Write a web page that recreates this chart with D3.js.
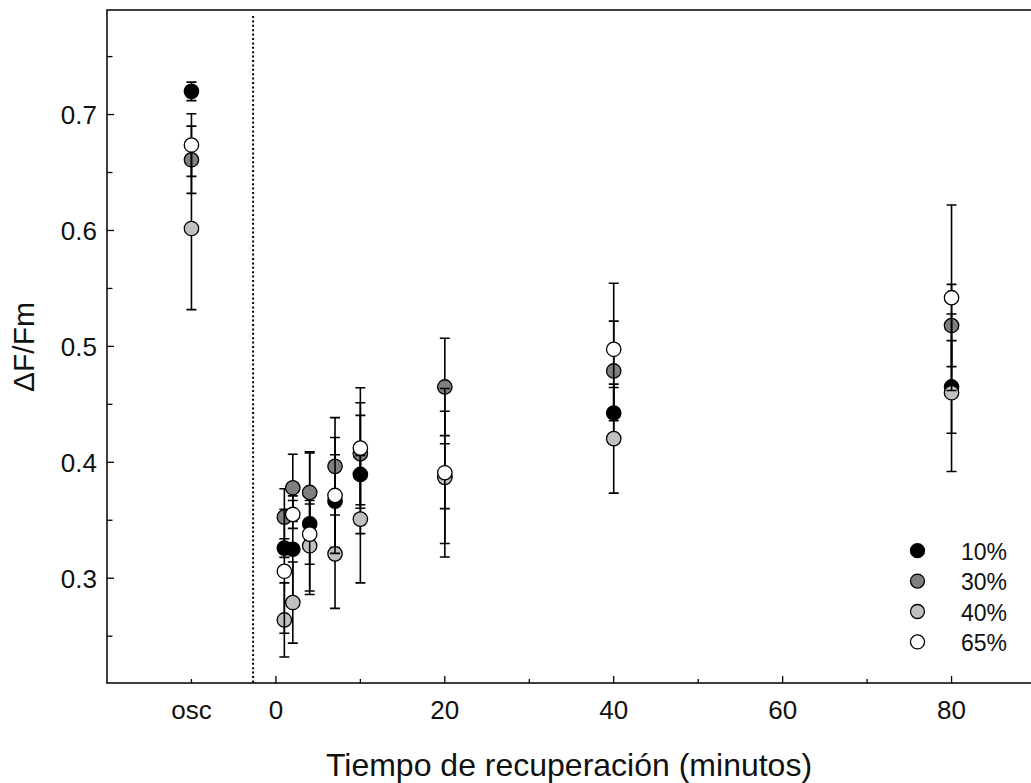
<!DOCTYPE html>
<html>
<head>
<meta charset="utf-8">
<script src="https://cdn.jsdelivr.net/npm/d3@7"></script>
<style>
  html, body { margin: 0; padding: 0; background: #fff; }
  svg { display: block; font-family: "Liberation Sans", Arial, Helvetica, sans-serif; }
</style>
</head>
<body>
<svg id="chart" width="1031" height="783"></svg>
<script>
// Recovery time (minutes); the "osc" dark-adapted reference sits left of the break at -10
const times = [-10, 1, 2, 4, 7, 10, 20, 40, 80];

// ΔF/Fm means and error half-widths for each light treatment
const labels = ["10%", "30%", "40%", "65%"];
const fills  = ["#000000", "#7f7f7f", "#c0c0c0", "#ffffff"];

const mean10 = [0.720, 0.326, 0.325, 0.347, 0.3665, 0.3895, 0.388, 0.4425, 0.465];
const err10  = [0.008, 0.008, 0.046, 0.061, 0.040, 0.051, 0.028, 0.022, 0.040];
const mean30 = [0.661, 0.3527, 0.378, 0.374, 0.3965, 0.4074, 0.465, 0.4788, 0.518];
const err30  = [0.029, 0.0245, 0.029, 0.035, 0.042, 0.044, 0.042, 0.043, 0.0355];
const mean40 = [0.6017, 0.264, 0.279, 0.328, 0.321, 0.351, 0.387, 0.4204, 0.460];
const err40  = [0.070, 0.032, 0.035, 0.039, 0.047, 0.055, 0.057, 0.047, 0.068];
const mean65 = [0.6737, 0.306, 0.355, 0.338, 0.3714, 0.4123, 0.391, 0.4975, 0.542];
const err65  = [0.027, 0.0535, 0.012, 0.026, 0.050, 0.052, 0.0727, 0.057, 0.080];

// Axis ticks
const xMajor = [0, 20, 40, 60, 80];
const xMinor = [-10, 10, 30, 50, 70];
const xLabels = [[-10, "osc"], [0, "0"], [20, "20"], [40, "40"], [60, "60"], [80, "80"]];
const yMajor = [0.3, 0.4, 0.5, 0.6, 0.7];
const yMinor = [0.25, 0.35, 0.45, 0.55, 0.65, 0.75];
const breakAt = -2.7; // dotted separator between reference and recovery series

const series = [
  { label: labels[0], fill: fills[0], mean: mean10, err: err10 },
  { label: labels[1], fill: fills[1], mean: mean30, err: err30 },
  { label: labels[2], fill: fills[2], mean: mean40, err: err40 },
  { label: labels[3], fill: fills[3], mean: mean65, err: err65 }
];

const svg = d3.select("#chart");
const padL = 107, padT = 10, padB = 683, padR = 1036;

const x = d3.scaleLinear().domain([-20, 90]).range([padL, padR]);
const y = d3.scaleLinear().domain([0.2096, 0.7902]).range([padB, padT]);

// frame
svg.append("path")
  .attr("d", `M${padR},${padT}H${padL}V${padB}H${padR}`)
  .attr("fill", "none").attr("stroke", "#000").attr("stroke-width", 1.5);

// inward ticks
const g = svg.append("g").attr("stroke", "#000").attr("stroke-width", 1.3);
g.selectAll(".ymaj").data(yMajor).join("line").attr("class", "ymaj")
  .attr("x1", padL).attr("x2", padL + 7).attr("y1", d => y(d)).attr("y2", d => y(d));
g.selectAll(".ymin").data(yMinor).join("line").attr("class", "ymin")
  .attr("x1", padL).attr("x2", padL + 5.5).attr("y1", d => y(d)).attr("y2", d => y(d));
g.selectAll(".xmaj").data(xMajor).join("line").attr("class", "xmaj")
  .attr("x1", d => x(d)).attr("x2", d => x(d)).attr("y1", padB).attr("y2", padB - 7);
g.selectAll(".xmin").data(xMinor).join("line").attr("class", "xmin")
  .attr("x1", d => x(d)).attr("x2", d => x(d)).attr("y1", padB).attr("y2", padB - 4);

// tick labels
svg.selectAll(".ylab").data(yMajor).join("text").attr("class", "ylab")
  .attr("x", padL - 10).attr("y", d => y(d) + 9.3)
  .attr("text-anchor", "end").attr("font-size", 26).attr("fill", "#111")
  .text(d => d3.format(".1f")(d));
svg.selectAll(".xlab").data(xLabels).join("text").attr("class", "xlab")
  .attr("x", d => x(d[0])).attr("y", 718.5)
  .attr("text-anchor", "middle").attr("font-size", 26).attr("fill", "#111")
  .text(d => d[1]);

// axis titles
svg.append("text")
  .attr("transform", `translate(34,347) rotate(-90)`)
  .attr("text-anchor", "middle").attr("font-size", 30).attr("fill", "#111")
  .text("ΔF/Fm");
svg.append("text")
  .attr("x", 569).attr("y", 776)
  .attr("text-anchor", "middle").attr("font-size", 32).attr("fill", "#111")
  .text("Tiempo de recuperación (minutos)");

// dotted separator
svg.append("line")
  .attr("x1", x(breakAt)).attr("x2", x(breakAt))
  .attr("y1", padT + 6).attr("y2", padB)
  .attr("stroke", "#000").attr("stroke-width", 2).attr("stroke-dasharray", "2,2.4");

// error bars and markers, one series after another
const cap = 5;
series.forEach(s => {
  const pts = times.map((t, i) => ({ t, m: s.mean[i], e: s.err[i] }));
  const eg = svg.append("g").attr("stroke", "#000").attr("stroke-width", 1.6).attr("fill", "none");
  eg.selectAll("path").data(pts).join("path")
    .attr("d", d => {
      const cx = x(d.t), y1 = y(d.m + d.e), y2 = y(d.m - d.e);
      return `M${cx},${y1}V${y2}M${cx - cap},${y1}H${cx + cap}M${cx - cap},${y2}H${cx + cap}`;
    });
  svg.append("g").selectAll("circle").data(pts).join("circle")
    .attr("cx", d => x(d.t)).attr("cy", d => y(d.m)).attr("r", 7.2)
    .attr("fill", s.fill).attr("stroke", "#000").attr("stroke-width", 1.3);
});

// legend
const lg = svg.append("g");
series.forEach((s, i) => {
  const ly = 550.7 + i * 30.4;
  lg.append("circle").attr("cx", 917.5).attr("cy", ly).attr("r", 7)
    .attr("fill", s.fill).attr("stroke", "#000").attr("stroke-width", 1.3);
  lg.append("text").attr("x", 961).attr("y", ly + 9)
    .attr("font-size", 23).attr("fill", "#111").text(s.label);
});
</script>
</body>
</html>
